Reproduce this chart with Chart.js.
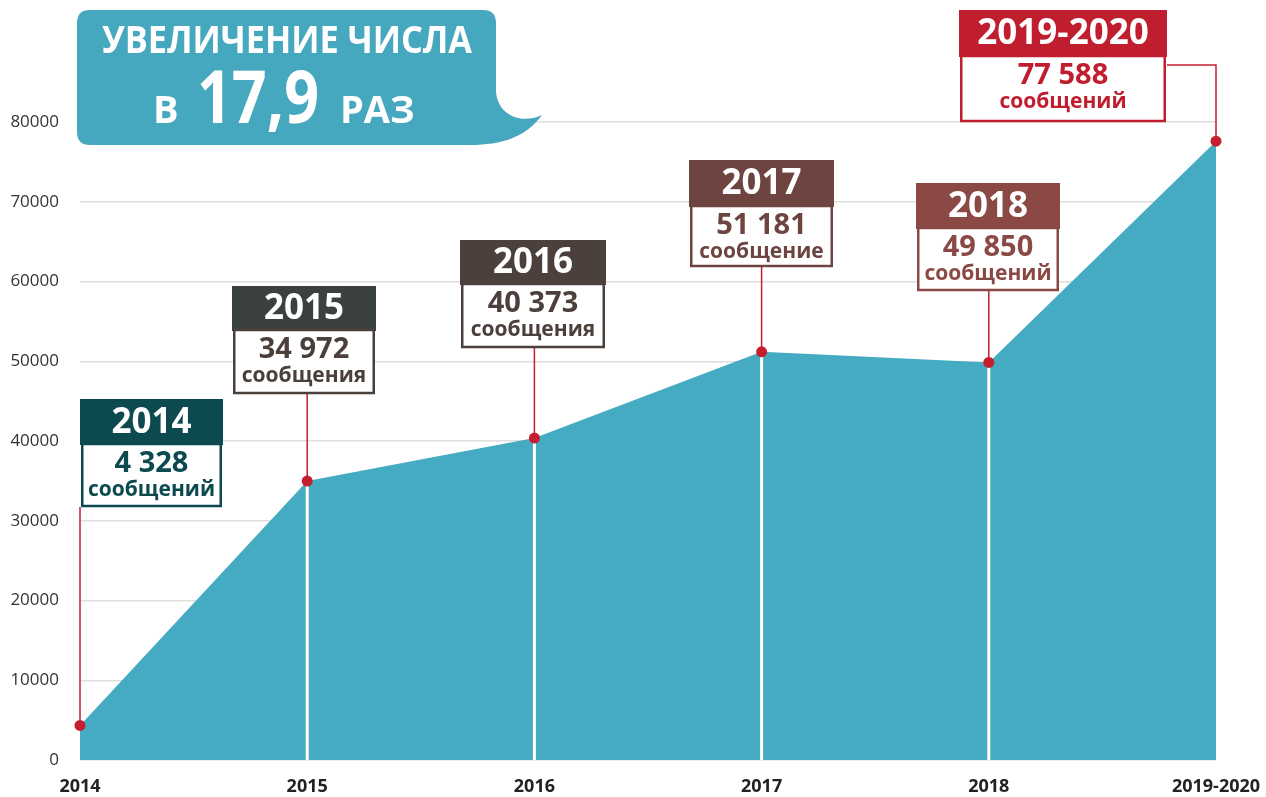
<!DOCTYPE html>
<html lang="ru">
<head>
<meta charset="utf-8">
<title>Увеличение числа сообщений</title>
<script src="https://cdn.jsdelivr.net/npm/chart.js@4.4.1/dist/chart.umd.min.js"></script>
<style>
  body { margin: 0; background: #fff; }
  canvas { display: block; }
</style>
</head>
<body>
<canvas id="msgChart" width="1266" height="797"></canvas>
<script>
// data
const years = ['2014', '2015', '2016', '2017', '2018', '2019-2020'];
const messages = [4328, 34972, 40373, 51181, 49850, 77588];
const countLabels = ['4 328', '34 972', '40 373', '51 181', '49 850', '77 588'];
const countWords = ['сообщений', 'сообщения', 'сообщения', 'сообщение', 'сообщений', 'сообщений'];
const yMax = 80000;
const yStep = 10000;

const titleLine1 = 'УВЕЛИЧЕНИЕ ЧИСЛА';
const titleLine2 = ['В', '17,9', 'РАЗ'];

// callout boxes (layout only)
const boxes = [
  { x: 80,  top: 399, w: 143, headH: 46, bodyH: 62, head: '#0c4a50', body: '#0c4a50' },
  { x: 232, top: 286, w: 144, headH: 45, bodyH: 63, head: '#3b413e', body: '#4b3f3b' },
  { x: 460, top: 240, w: 146, headH: 45, bodyH: 63, head: '#4b403c', body: '#4b403c' },
  { x: 689, top: 160, w: 145, headH: 47, bodyH: 60, head: '#6d4440', body: '#6d4440' },
  { x: 916, top: 183, w: 144, headH: 46, bodyH: 62, head: '#8a4944', body: '#8a4944' },
  { x: 959, top: 10,  w: 208, headH: 47, bodyH: 65, head: '#c01e2e', body: '#c01e2e' }
];

const FONT = '"Open Sans", "Noto Sans", sans-serif';
const RED = '#c41e2f';
const TEAL = '#45abc3';

// white drop lines + red connectors + callouts, drawn right after the area
const calloutPlugin = {
  id: 'callouts',
  afterDatasetDraw(chart, args) {
    if (args.index !== 0) return;
    const ctx = chart.ctx;
    const pts = chart.getDatasetMeta(0).data;
    const bottom = chart.chartArea.bottom;

    ctx.save();
    // white vertical lines inside the area
    ctx.strokeStyle = '#ffffff';
    ctx.lineWidth = 3;
    for (let i = 1; i < pts.length - 1; i++) {
      ctx.beginPath();
      ctx.moveTo(pts[i].x, pts[i].y);
      ctx.lineTo(pts[i].x, bottom);
      ctx.stroke();
    }

    // red connectors
    ctx.strokeStyle = RED;
    ctx.lineWidth = 1.5;
    pts.forEach((p, i) => {
      const b = boxes[i];
      const boxBottom = b.top + b.headH + b.bodyH;
      ctx.beginPath();
      if (i === pts.length - 1) {
        const yy = b.top + b.headH + 8;
        ctx.moveTo(b.x + b.w, yy);
        ctx.lineTo(p.x, yy);
        ctx.lineTo(p.x, p.y);
      } else {
        ctx.moveTo(p.x, boxBottom);
        ctx.lineTo(p.x, p.y);
      }
      ctx.stroke();
    });

    // boxes
    boxes.forEach((b, i) => {
      const cx = b.x + b.w / 2;
      ctx.fillStyle = b.head;
      ctx.fillRect(b.x, b.top, b.w, b.headH);
      const by = b.top + b.headH;
      ctx.fillStyle = '#ffffff';
      ctx.fillRect(b.x + 1, by, b.w - 2, b.bodyH);
      ctx.strokeStyle = b.body;
      ctx.lineWidth = 2.5;
      ctx.strokeRect(b.x + 2.25, by - 1, b.w - 4.5, b.bodyH);

      ctx.textAlign = 'center';
      ctx.textBaseline = 'middle';
      ctx.fillStyle = '#ffffff';
      ctx.font = 'bold 35px ' + FONT;
      ctx.fillText(years[i], cx, b.top + b.headH / 2 + 1, b.w - 14);

      ctx.fillStyle = b.body;
      ctx.font = 'bold 29px ' + FONT;
      ctx.fillText(countLabels[i], cx, by + 19, b.w - 16);
      ctx.font = 'bold 21px ' + FONT;
      ctx.fillText(countWords[i], cx, by + 45, b.w - 16);
    });
    ctx.restore();
  },
  afterDraw(chart) {
    const ctx = chart.ctx;
    ctx.save();
    // title bubble
    ctx.fillStyle = '#46a8bf';
    ctx.beginPath();
    ctx.moveTo(90, 10);
    ctx.lineTo(483, 10);
    ctx.quadraticCurveTo(496, 10, 496, 23);
    ctx.lineTo(496, 90);
    ctx.bezierCurveTo(496, 112, 518, 126, 542, 115);
    ctx.bezierCurveTo(526, 137, 502, 145, 470, 145);
    ctx.lineTo(90, 145);
    ctx.quadraticCurveTo(77, 145, 77, 132);
    ctx.lineTo(77, 23);
    ctx.quadraticCurveTo(77, 10, 90, 10);
    ctx.closePath();
    ctx.fill();

    ctx.fillStyle = '#ffffff';
    ctx.textBaseline = 'alphabetic';
    ctx.textAlign = 'center';
    ctx.font = 'bold 38px ' + FONT;
    ctx.fillText(titleLine1, 287, 53, 370);
    ctx.textAlign = 'left';
    ctx.fillText(titleLine2[0], 153, 123, 26);
    ctx.font = 'bold 74px ' + FONT;
    ctx.fillText(titleLine2[1], 197, 123, 122);
    ctx.font = 'bold 38px ' + FONT;
    ctx.fillText(titleLine2[2], 340, 123, 82);
    ctx.restore();
  }
};

new Chart(document.getElementById('msgChart'), {
  type: 'line',
  data: {
    labels: years,
    datasets: [
      {
        data: messages,
        fill: 'origin',
        backgroundColor: TEAL,
        borderWidth: 0,
        pointRadius: 0,
        tension: 0,
        order: 2
      },
      {
        data: messages,
        showLine: false,
        pointRadius: 5.5,
        pointHoverRadius: 5.5,
        pointBackgroundColor: RED,
        pointBorderWidth: 0,
        clip: false,
        order: 1
      }
    ]
  },
  options: {
    responsive: false,
    animation: false,
    layout: { padding: { top: 122, right: 50, left: 0, bottom: 0 } },
    plugins: {
      legend: { display: false },
      tooltip: { enabled: false }
    },
    scales: {
      x: {
        offset: false,
        grid: { display: false, drawTicks: false },
        border: { display: false },
        ticks: {
          padding: 16,
          maxRotation: 0,
          autoSkip: false,
          color: '#222',
          font: { family: FONT, size: 18, weight: 'bold' }
        },
        afterFit(scale) {
          scale.height = 37;
          scale.paddingLeft = 0;
          scale.paddingRight = 0;
        }
      },
      y: {
        min: 0,
        max: yMax,
        grid: { color: '#dedede', lineWidth: 1.5, drawTicks: false },
        border: { display: false },
        ticks: {
          stepSize: yStep,
          padding: 21,
          color: '#333',
          font: { family: FONT, size: 17 },
          callback: (v) => String(v)
        },
        afterFit(scale) {
          scale.width = 80;
          scale.paddingTop = 0;
          scale.paddingBottom = 0;
        }
      }
    }
  },
  plugins: [calloutPlugin]
});
</script>
</body>
</html>
